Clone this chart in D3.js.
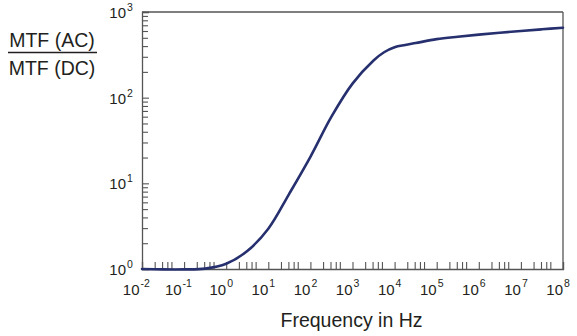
<!DOCTYPE html>
<html>
<head>
<meta charset="utf-8">
<script src="https://cdn.jsdelivr.net/npm/d3@7"></script>
<style>
  body { margin: 0; background: #fff; }
  text { font-family: Arial, "Liberation Sans", Helvetica, sans-serif; fill: #231f20; }
</style>
</head>
<body>
<div id="canvas"></div>
<script>
// frequency (log10 Hz) and ratio MTF(AC)/MTF(DC)
const logFreq = [-2, -1.5, -1, -0.5, 0, 0.5, 1, 1.5, 2, 2.5, 3, 3.5, 3.75, 4, 4.25, 4.5, 5, 5.5, 6, 6.5, 7, 7.5, 8];
const ratio = [1.0, 0.99, 0.99, 1.01, 1.15, 1.62, 2.95, 7.6, 20.4, 60, 146, 272, 339, 388, 412, 434, 482, 515, 545, 573, 601, 628, 655];

const xExponents = [-2, -1, 0, 1, 2, 3, 4, 5, 6, 7, 8];
const yExponents = [0, 1, 2, 3];

const width = 577;
const height = 336;
const margin = { top: 12, left: 142, bottom: 67, right: 14 };
const iwidth = width - margin.left - margin.right;
const iheight = height - margin.top - margin.bottom;

const svg = d3.select("#canvas").append("svg")
    .attr("width", width)
    .attr("height", height);

const g = svg.append("g").attr("transform", `translate(${margin.left},${margin.top})`);

const x = d3.scaleLog().domain([1e-2, 1e8]).range([0, iwidth]);
const y = d3.scaleLog().domain([1, 1e3]).range([iheight, 0]);

const axisColor = "#555";

// frame top / right
g.append("line").attr("x1", 0).attr("x2", iwidth).attr("y1", 0).attr("y2", 0)
    .attr("stroke", axisColor).attr("stroke-width", 1.3);
g.append("line").attr("x1", iwidth).attr("x2", iwidth).attr("y1", 0).attr("y2", iheight)
    .attr("stroke", axisColor).attr("stroke-width", 1.3);

// x ticks: majors plus 2..5 in each decade
const xTicks = [];
xExponents.forEach(e => {
    xTicks.push(Math.pow(10, e));
    if (e < 8) [2, 3, 4, 5].forEach(m => xTicks.push(m * Math.pow(10, e)));
});

const xAxis = g.append("g")
    .attr("transform", `translate(0, ${iheight})`)
    .call(d3.axisBottom(x).tickValues(xTicks).tickSize(-7).tickFormat(""));

// y ticks: majors and 2..9 minors
const yMajor = yExponents.map(e => Math.pow(10, e));
const yMinor = [];
yExponents.slice(0, -1).forEach(e => {
    for (let m = 2; m <= 9; m++) yMinor.push(m * Math.pow(10, e));
});

const yAxis = g.append("g")
    .call(d3.axisLeft(y).tickValues(yMajor).tickSize(-7).tickFormat(""));
const yAxisMinor = g.append("g")
    .call(d3.axisLeft(y).tickValues(yMinor).tickSize(-6).tickFormat(""));

[xAxis, yAxis, yAxisMinor].forEach(a => {
    a.select(".domain").attr("stroke", axisColor).attr("stroke-width", 1.3);
    a.selectAll(".tick line").attr("stroke", axisColor).attr("stroke-width", 1.1);
});
yAxisMinor.select(".domain").remove();

// x tick labels 10^n
g.selectAll(".xlab").data(xExponents).enter().append("text")
    .attr("class", "xlab")
    .attr("x", d => x(Math.pow(10, d)) - (d < 0 ? 2.5 : 0))
    .attr("y", iheight + 26)
    .attr("text-anchor", "end")
    .style("font-size", "15px")
    .text("10");
g.selectAll(".xsup").data(xExponents).enter().append("text")
    .attr("class", "xsup")
    .attr("x", d => x(Math.pow(10, d)) - (d < 0 ? 2.5 : 0) + 1)
    .attr("y", iheight + 18)
    .style("font-size", "10.5px")
    .text(d => d);

// y tick labels 10^n
g.selectAll(".ylab").data(yExponents).enter().append("text")
    .attr("class", "ylab")
    .attr("x", -16)
    .attr("y", d => y(Math.pow(10, d)) + 6)
    .attr("text-anchor", "end")
    .style("font-size", "15px")
    .text("10");
g.selectAll(".ysup").data(yExponents).enter().append("text")
    .attr("class", "ysup")
    .attr("x", -15)
    .attr("y", d => y(Math.pow(10, d)) - 1)
    .style("font-size", "10.5px")
    .text(d => d);

// curve
const pts = logFreq.map((f, i) => [Math.pow(10, f), ratio[i]]);
const line = d3.line()
    .x(d => x(d[0]))
    .y(d => y(d[1]))
    .curve(d3.curveCatmullRom.alpha(0.5));

g.append("path")
    .datum(pts)
    .attr("d", line)
    .attr("fill", "none")
    .attr("stroke", "#27306f")
    .attr("stroke-width", 2.6)
    .attr("stroke-linecap", "round");

// axis titles
svg.append("text")
    .attr("x", 351.5)
    .attr("y", 327)
    .attr("text-anchor", "middle")
    .style("font-size", "19.5px")
    .text("Frequency in Hz");

svg.append("text")
    .attr("x", 52)
    .attr("y", 47)
    .attr("text-anchor", "middle")
    .style("font-size", "19.5px")
    .text("MTF (AC)");
svg.append("line")
    .attr("x1", 8).attr("x2", 97)
    .attr("y1", 52.5).attr("y2", 52.5)
    .attr("stroke", "#231f20").attr("stroke-width", 1.4);
svg.append("text")
    .attr("x", 52)
    .attr("y", 75)
    .attr("text-anchor", "middle")
    .style("font-size", "19.5px")
    .text("MTF (DC)");
</script>
</body>
</html>
